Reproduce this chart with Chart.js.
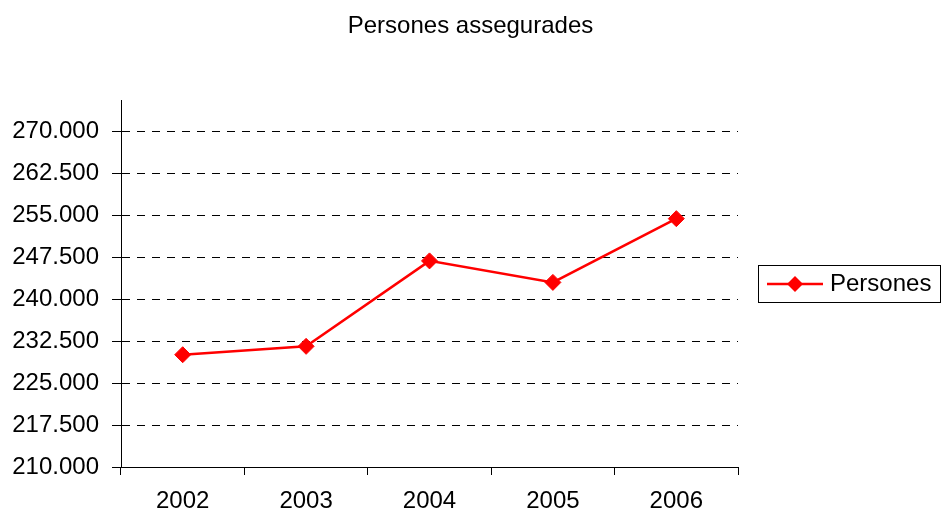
<!DOCTYPE html>
<html>
<head>
<meta charset="utf-8">
<script src="https://cdn.jsdelivr.net/npm/chart.js@4/dist/chart.umd.min.js"></script>
<style>
  html, body { margin: 0; padding: 0; background: #fff; }
  #wrap { width: 941px; height: 512px; }
</style>
</head>
<body>
<div id="wrap"><canvas id="chart"></canvas></div>
<script>
// data
var years = ['2002', '2003', '2004', '2005', '2006'];
var persones = [230100, 231600, 246900, 243050, 254460];
var yTicks = [210000, 217500, 225000, 232500, 240000, 247500, 255000, 262500, 270000];
var seriesName = 'Persones';
var titleText = 'Persones assegurades';
var yMin = 210000;
var yMax = 275700;

Chart.defaults.font.family = "'Liberation Sans', Arial, sans-serif";
Chart.defaults.color = '#000';

function fmt(v) {
    return String(v).replace(/\B(?=(\d{3})+(?!\d))/g, '.');
}

// title centred on the whole canvas + boxed legend with line and diamond
var extras = {
    id: 'extras',
    afterDraw: function(chart) {
        var ctx = chart.ctx;
        var area = chart.chartArea;
        ctx.save();
        ctx.fillStyle = '#000';
        ctx.font = "24px 'Liberation Sans', Arial, sans-serif";
        ctx.textAlign = 'center';
        ctx.textBaseline = 'middle';
        ctx.fillText(titleText, chart.width / 2, 26);

        var left = area.right + 20;
        var right = chart.width - 1;
        var cy = (area.top + area.bottom) / 2 + 0.5;
        var top = cy - 19, h = 37;
        ctx.strokeStyle = '#000';
        ctx.lineWidth = 1;
        ctx.strokeRect(Math.round(left) + 0.5, Math.round(top) + 0.5, right - Math.round(left), h);
        ctx.strokeStyle = '#ff0000';
        ctx.lineWidth = 2.5;
        ctx.beginPath();
        ctx.moveTo(left + 9, cy);
        ctx.lineTo(left + 65, cy);
        ctx.stroke();
        ctx.fillStyle = '#ff0000';
        ctx.beginPath();
        var mx = left + 37, r = 8;
        ctx.moveTo(mx, cy - r);
        ctx.lineTo(mx + r, cy);
        ctx.lineTo(mx, cy + r);
        ctx.lineTo(mx - r, cy);
        ctx.closePath();
        ctx.fill();
        ctx.fillStyle = '#000';
        ctx.textAlign = 'left';
        ctx.fillText(seriesName, left + 72, cy);
        ctx.restore();
    }
};

new Chart(document.getElementById('chart'), {
    type: 'line',
    data: {
        labels: years,
        datasets: [{
            label: seriesName,
            data: persones,
            borderColor: '#ff0000',
            backgroundColor: '#ff0000',
            borderWidth: 2.5,
            pointStyle: 'rectRot',
            pointRadius: 8,
            pointBorderWidth: 1,
            tension: 0
        }]
    },
    options: {
        responsive: true,
        maintainAspectRatio: false,
        animation: false,
        layout: { padding: { left: 0, right: 203, top: 100, bottom: 0 } },
        plugins: {
            legend: { display: false },
            tooltip: { enabled: false },
            title: { display: false }
        },
        scales: {
            x: {
                offset: true,
                grid: {
                    offset: true,
                    drawOnChartArea: false,
                    color: '#000',
                    tickLength: 8
                },
                border: { color: '#000', width: 1 },
                ticks: { font: { size: 24 }, padding: 12, maxRotation: 0 },
                afterFit: function(scale) { scale.height = 45; }
            },
            y: {
                min: yMin,
                max: yMax,
                grid: {
                    color: '#000',
                    tickBorderDash: [],
                    tickLength: 9
                },
                // in v4 border.dash is what dashes the grid lines
                border: { color: '#000', width: 1, dash: [8, 7] },
                ticks: {
                    font: { size: 24 },
                    padding: 13,
                    callback: function(v) { return fmt(v); }
                },
                afterBuildTicks: function(scale) {
                    scale.ticks = yTicks.map(function(v) { return { value: v }; });
                },
                afterFit: function(scale) { scale.width = 121; }
            }
        }
    },
    plugins: [extras]
});
</script>
</body>
</html>
